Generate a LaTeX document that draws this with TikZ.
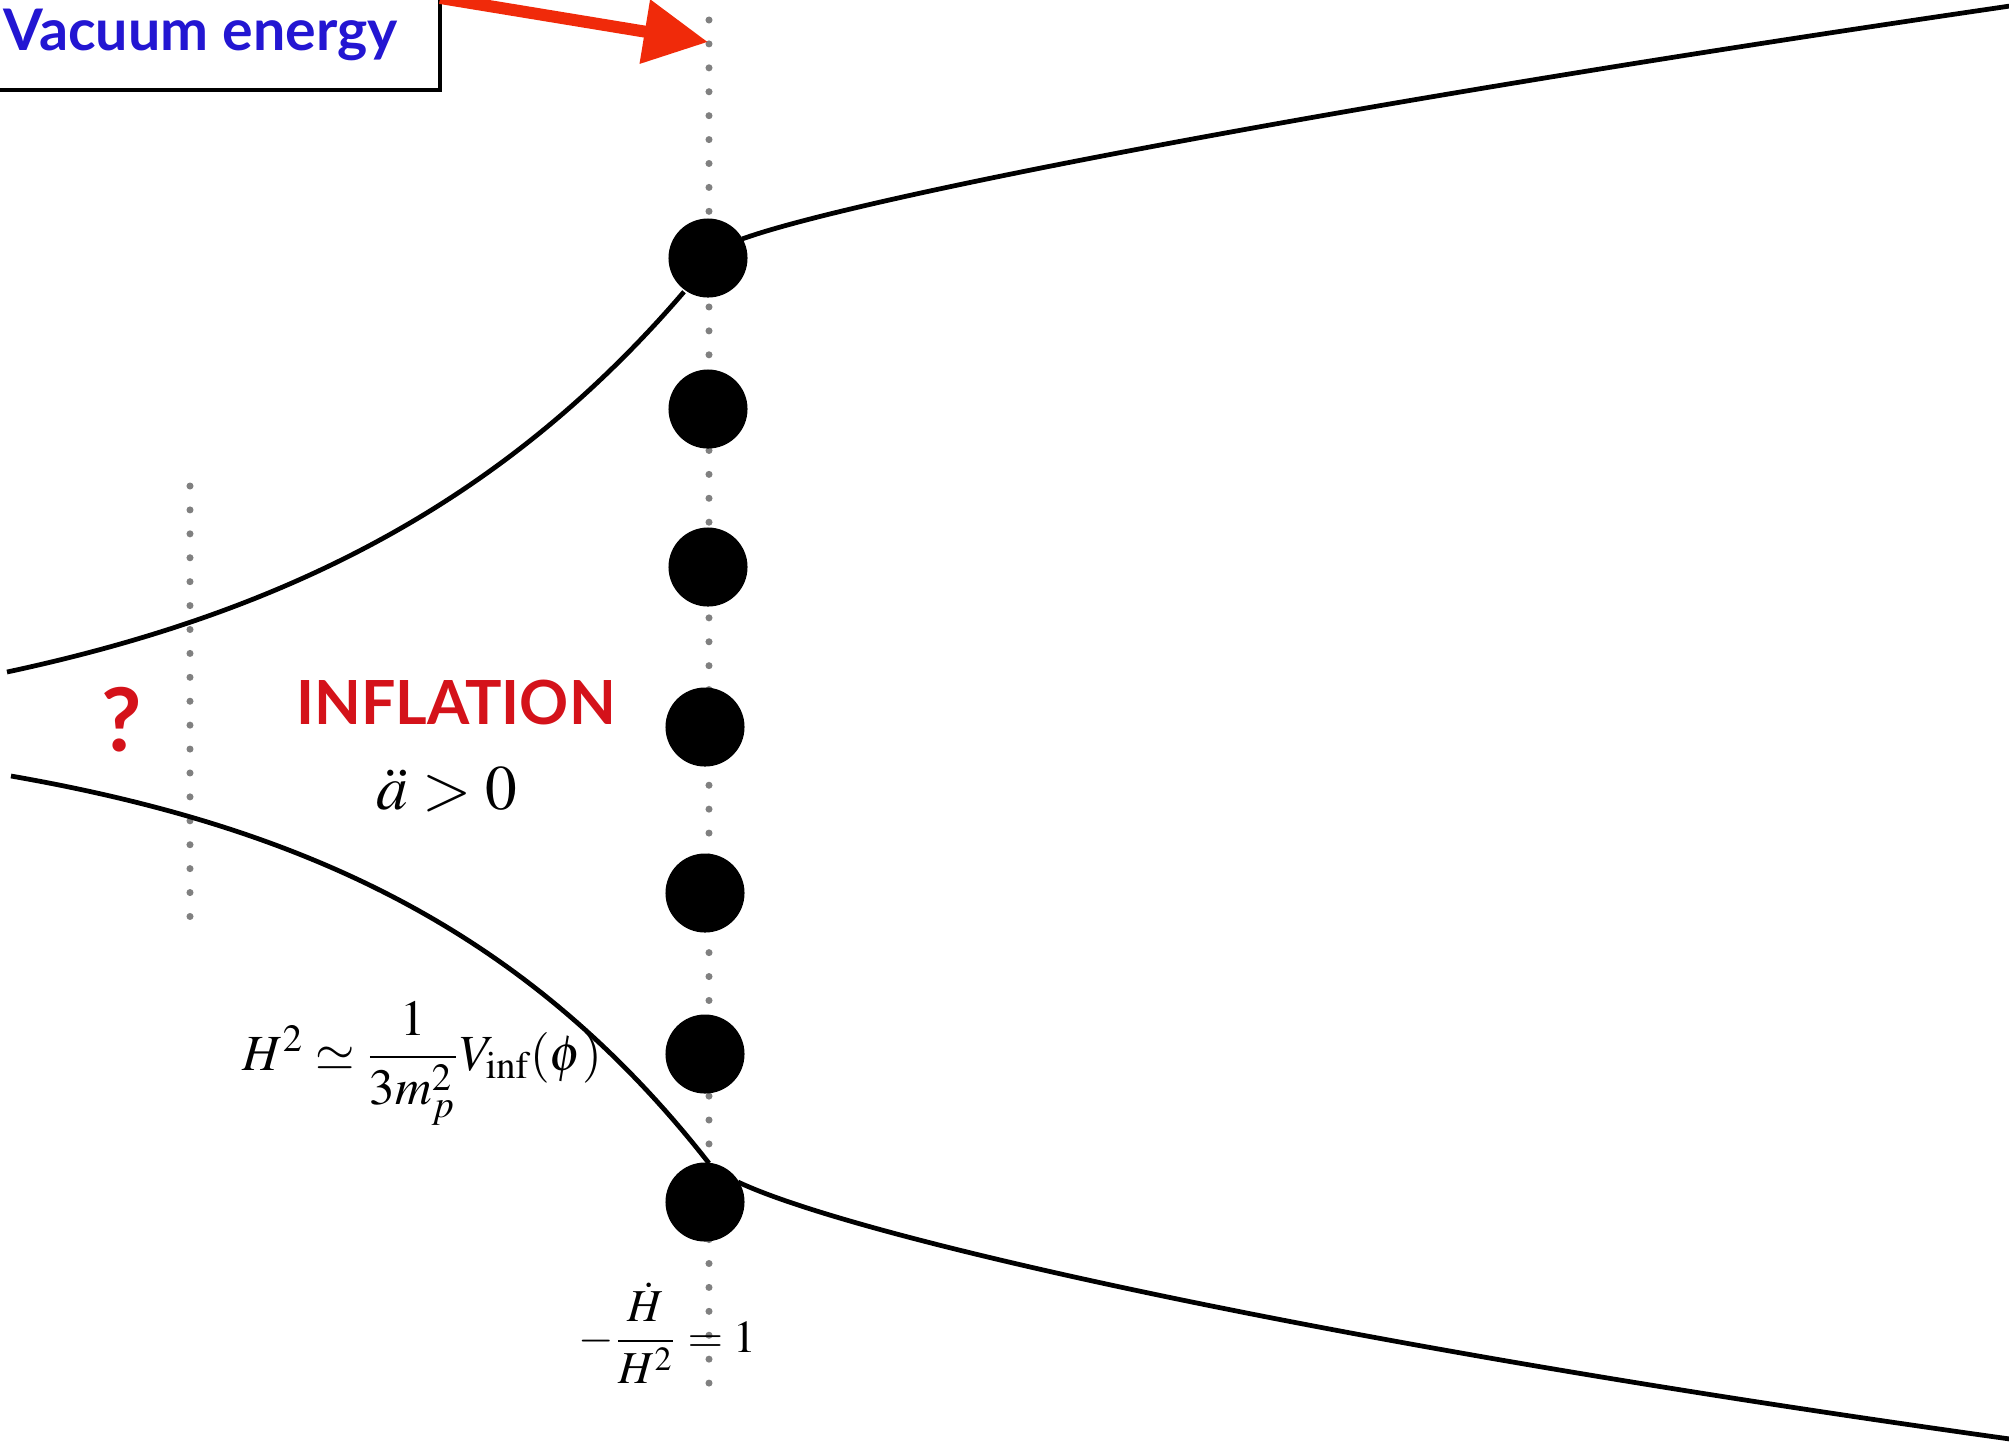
\documentclass[tikz,border=0pt]{standalone}
\usepackage{amsmath}
\usepackage{mathptmx}
\usepackage{fontspec}
\newfontfamily\labelfont{Lato}
\usetikzlibrary{arrows.meta}
\definecolor{vacblue}{RGB}{35,22,210}
\definecolor{infred}{RGB}{212,18,26}
\definecolor{arrred}{RGB}{240,42,10}
\begin{document}
\begin{tikzpicture}[x=0.01cm,y=-0.01cm,
 blob/.style={circle,fill=black,minimum size=0.79cm,inner sep=0pt},
 curve/.style={line width=1.35pt},
 dotline/.style={gray,line width=2pt,line cap=round,dash pattern=on 0pt off 6.8pt},
 vacbox/.style={draw,line width=1.1pt,minimum width=4.7cm,minimum height=0.92cm,inner sep=0pt,outer sep=0pt},
 vactext/.style={font=\labelfont\bfseries\fontsize{16.3}{18}\selectfont,text=vacblue,inner sep=0pt},
 redlabel/.style={font=\labelfont\bfseries\fontsize{17.3}{20}\selectfont,text=infred,inner sep=0pt},
 eq/.style={inner sep=0pt}]
 \useasboundingbox (0,0) rectangle (2009,1447);
 \coordinate (mtop) at (709,20);
 \coordinate (mbot) at (709,1388);
 \coordinate (ltop) at (190,486);
 \coordinate (lbot) at (190,918);
 \draw[dotline] (mtop) -- (mbot);
 \draw[dotline] (ltop) -- (lbot);
 \draw[curve] plot[domain=7:684,samples=80] (\x,{672-85.6*(exp(0.0025*(\x-7))-1)});
 \draw[curve] (742,239) .. controls (850,200) and (1300,110) .. (2010,6);
 \draw[curve] plot[domain=11:709,samples=80] (\x,{776+61.2*(exp(0.00285*(\x-11))-1)});
 \draw[curve] (738,1182) .. controls (850,1235) and (1300,1340) .. (2010,1439);
 \foreach \x/\y [count=\i] in {708/258,708/409,708/567,705/727,705/893,705/1054,705/1202}
   \node[blob] (d\i) at (\x,\y) {};
 \node[vacbox,anchor=south east] (vac) at (440,90) {};
 \node[vactext,anchor=base west] (vlab) at (3,50) {Vacuum energy};
 \coordinate (vtip) at (708,42);
 \draw[arrred,line width=0.12cm,-{Triangle[length=6.4mm,width=6.2mm]}] (vac.north east) -- (vtip);
 \node[redlabel,anchor=base] (infl) at (456,724) {INFLATION};
 \node[redlabel,font=\labelfont\bfseries\fontsize{25}{28}\selectfont] (qm) at (122,720) {?};
 \node[eq,font=\fontsize{18}{21}\selectfont,anchor=base] (accel) at (447,809) {$\ddot a > 0$};
 \node[eq,font=\fontsize{14.4}{17}\selectfont,anchor=base west] (fried) at (242,1070) {$H^2 \simeq \dfrac{1}{3m_p^2}V_{\mathrm{inf}}(\phi)$};
 \node[eq,font=\fontsize{13}{16}\selectfont,anchor=base west] (slowroll) at (578,1352) {$-\dfrac{\dot H}{H^2} = 1$};
\end{tikzpicture}
\end{document}
